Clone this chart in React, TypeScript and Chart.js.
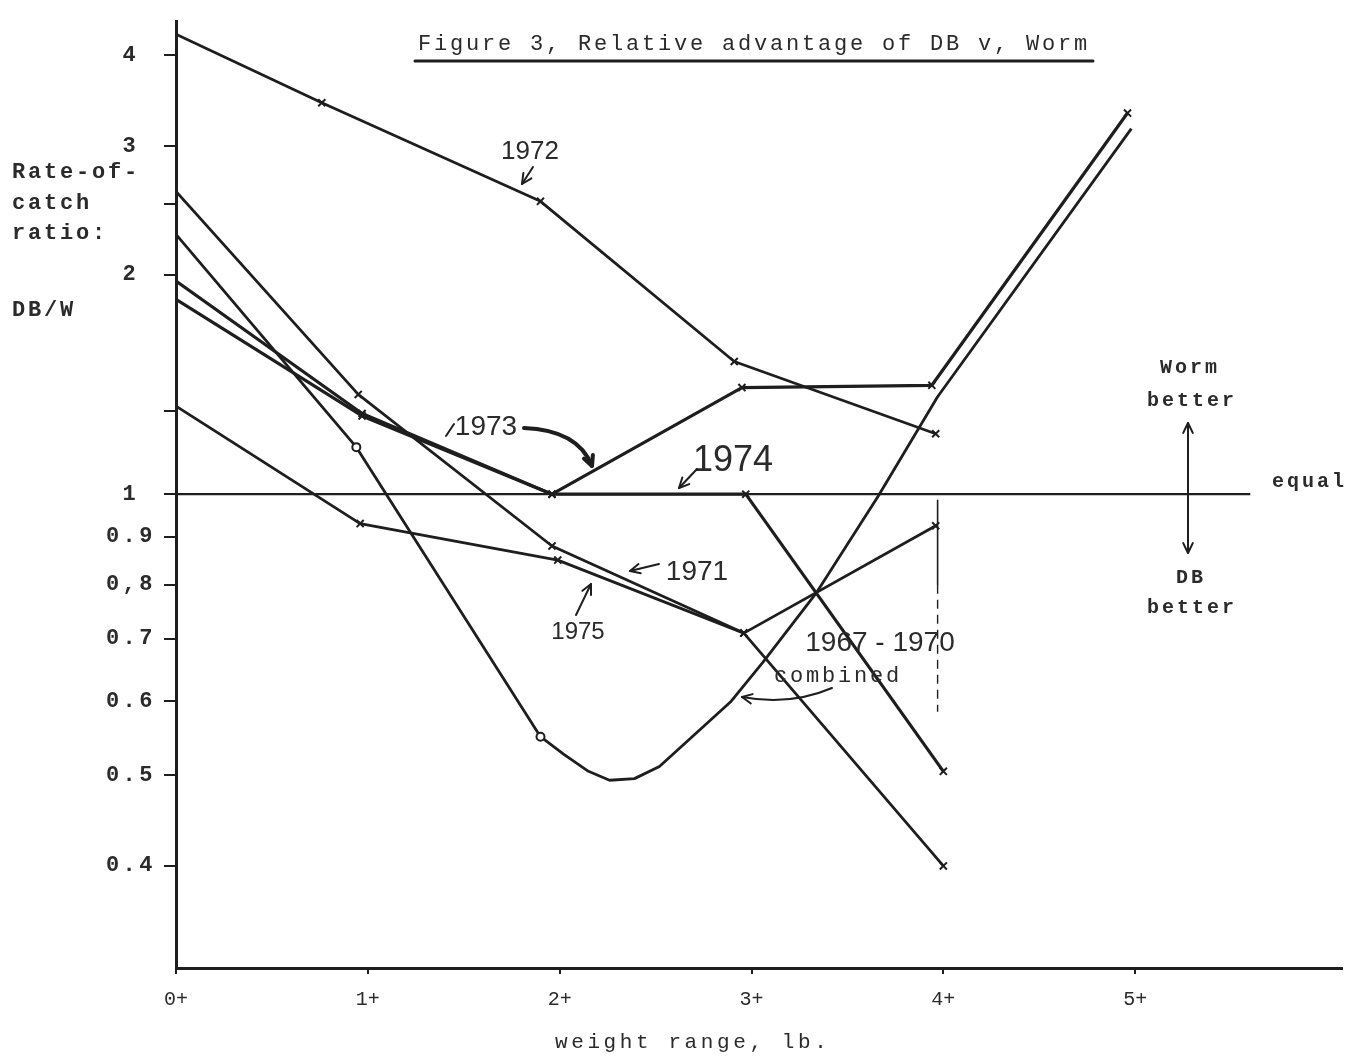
import React, { useEffect, useRef } from 'react';
import { Chart, registerables, LinearScale } from 'chart.js';

Chart.register(...registerables);

// ---------- data ----------
const X_TICKS = [0, 1, 2, 3, 4, 5];
const X_TICK_LABELS = ['0+', '1+', '2+', '3+', '4+', '5+'];
const Y_TICKS = [0.4, 0.5, 0.6, 0.7, 0.8, 0.9, 1, 1.3, 2, 2.5, 3, 4];
const Y_TICK_LABELS = ['0.4', '0.5', '0.6', '0.7', '0,8', '0.9', '1 ', '', '2 ', '', '3 ', '4 '];

const X_1972 = [0, 0.76, 1.9, 2.91, 3.96];
const Y_1972 = [4.27, 3.44, 2.52, 1.52, 1.21];
const X_1971 = [0, 0.95, 1.96, 2.96, 4.0];
const Y_1971 = [2.6, 1.37, 0.88, 0.71, 0.4];
const X_1975 = [0, 0.96, 1.99, 2.96, 3.96];
const Y_1975 = [1.32, 0.93, 0.85, 0.71, 0.925];
const X_1973 = [0, 0.97, 1.96, 2.95, 3.94, 4.96];
const Y_1973 = [1.96, 1.29, 1.0, 1.4, 1.41, 3.33];
const X_1974 = [0, 0.97, 1.96, 2.97, 4.0];
const Y_1974 = [1.85, 1.28, 1.0, 1.0, 0.505];
const X_COMBINED = [0, 0.94, 1.9, 2.02, 2.15, 2.26, 2.39, 2.52, 2.89, 3.06, 3.34, 3.66, 3.97, 4.98];
const Y_COMBINED = [2.27, 1.16, 0.55, 0.527, 0.505, 0.494, 0.496, 0.511, 0.599, 0.661, 0.785, 0.995, 1.36, 3.17];
const X_EQUAL = [0, 5.6];
const Y_EQUAL = [1, 1];
const X_VLINE = [3.97, 3.97];
const Y_VLINE_SOLID = [0.985, 0.8];
const Y_VLINE_DASHED = [0.8, 0.585];

// ---------- custom ratio scale (log, different spacing above / below 1) ----------
const K_UP = 734;
const K_DOWN = 940;
const fwd = (v: number) => {
  const l = Math.log10(v);
  return l >= 0 ? l * K_UP : l * K_DOWN;
};
const inv = (t: number) => Math.pow(10, t >= 0 ? t / K_UP : t / K_DOWN);

class RatioScale extends LinearScale {
  static id = 'ratio';
  buildTicks() {
    return Y_TICKS.map((value) => ({ value }));
  }
  configure() {
    super.configure();
    (this as any)._tMin = fwd(this.min);
    (this as any)._tMax = fwd(this.max);
  }
  getPixelForValue(value: number) {
    if (value === null || value === undefined || isNaN(value) || value <= 0) return NaN;
    const a = (this as any)._tMin;
    const b = (this as any)._tMax;
    return this.getPixelForDecimal((fwd(value) - a) / (b - a));
  }
  getValueForPixel(pixel: number) {
    const a = (this as any)._tMin;
    const b = (this as any)._tMax;
    return inv(a + this.getDecimalForPixel(pixel) * (b - a));
  }
  drawLabels(area: any) {
    const ctx: any = this.ctx;
    const prev = ctx.letterSpacing;
    ctx.letterSpacing = '3.5px';
    super.drawLabels(area);
    ctx.letterSpacing = prev || '0px';
  }
}
Chart.register(RatioScale as any);

const INK = '#1e1e1e';
const TEXT = '#2b2b2b';
const MONO = '"Liberation Mono", "DejaVu Sans Mono", monospace';
const HAND = '"Liberation Sans", "DejaVu Sans", sans-serif';

const mk = (xs: number[], ys: number[]) => xs.map((x, i) => ({ x, y: ys[i] }));

const lineBase = {
  borderColor: INK,
  borderWidth: 2.8,
  pointBorderColor: INK,
  pointBackgroundColor: INK,
  pointBorderWidth: 2,
  borderJoinStyle: 'round' as const,
  tension: 0,
};

// ---------- annotation plugin ----------
function arrowHead(ctx: CanvasRenderingContext2D, x: number, y: number, ang: number, len = 11) {
  ctx.beginPath();
  ctx.moveTo(x + len * Math.cos(ang + Math.PI - 0.45), y + len * Math.sin(ang + Math.PI - 0.45));
  ctx.lineTo(x, y);
  ctx.lineTo(x + len * Math.cos(ang + Math.PI + 0.45), y + len * Math.sin(ang + Math.PI + 0.45));
  ctx.stroke();
}

function line(ctx: CanvasRenderingContext2D, x1: number, y1: number, x2: number, y2: number, head = true) {
  ctx.beginPath();
  ctx.moveTo(x1, y1);
  ctx.lineTo(x2, y2);
  ctx.stroke();
  if (head) arrowHead(ctx, x2, y2, Math.atan2(y2 - y1, x2 - x1));
}

function curve(ctx: CanvasRenderingContext2D, x1: number, y1: number, cx: number, cy: number, x2: number, y2: number) {
  ctx.beginPath();
  ctx.moveTo(x1, y1);
  ctx.quadraticCurveTo(cx, cy, x2, y2);
  ctx.stroke();
  arrowHead(ctx, x2, y2, Math.atan2(y2 - cy, x2 - cx));
}

function text(
  ctx: any,
  s: string,
  x: number,
  y: number,
  font: string,
  align: CanvasTextAlign = 'center',
  spacing = 0,
) {
  ctx.font = font;
  ctx.letterSpacing = `${spacing}px`;
  ctx.textAlign = align;
  ctx.textBaseline = 'middle';
  ctx.fillStyle = TEXT;
  ctx.fillText(s, x, y);
  ctx.letterSpacing = '0px';
}

const annotationPlugin = {
  id: 'annotations',
  beforeDraw(chart: any) {
    const ctx = chart.ctx;
    ctx.save();
    ctx.fillStyle = '#ffffff';
    ctx.fillRect(0, 0, chart.width, chart.height);
    ctx.restore();
  },
  afterDraw(chart: any) {
    const ctx = chart.ctx;
    ctx.save();
    ctx.strokeStyle = INK;
    ctx.lineCap = 'round';
    ctx.lineJoin = 'round';

    // title
    text(ctx, 'Figure 3, Relative advantage of DB v, Worm', 418, 44, `22px ${MONO}`, 'left', 2.8);
    ctx.lineWidth = 3;
    line(ctx, 415, 61, 1093, 61, false);

    // y axis title
    const yf = `bold 22px ${MONO}`;
    text(ctx, 'Rate-of-', 12, 172, yf, 'left', 2.8);
    text(ctx, 'catch', 12, 203, yf, 'left', 2.8);
    text(ctx, 'ratio:', 12, 233, yf, 'left', 2.8);
    text(ctx, 'DB/W', 12, 310, yf, 'left', 2.8);

    // x axis title
    text(ctx, 'weight range, lb.', 555, 1042, `21px ${MONO}`, 'left', 3.6);

    // right side legend
    const rf = `bold 20px ${MONO}`;
    text(ctx, 'Worm', 1190, 368, rf, 'center', 3);
    text(ctx, 'better', 1192, 401, rf, 'center', 3);
    text(ctx, 'equal', 1272, 482, rf, 'left', 3);
    text(ctx, 'DB', 1191, 578, rf, 'center', 3);
    text(ctx, 'better', 1192, 608, rf, 'center', 3);
    ctx.lineWidth = 2;
    line(ctx, 1188, 490, 1188, 423, true);
    line(ctx, 1188, 490, 1188, 553, true);

    // series labels
    text(ctx, '1972', 530, 152, `26px ${HAND}`);
    ctx.lineWidth = 2;
    line(ctx, 533, 167, 522, 184, true);

    text(ctx, '1973', 486, 427, `28px ${HAND}`);
    line(ctx, 454, 424, 446, 436, false);
    ctx.lineWidth = 4;
    curve(ctx, 524, 428, 578, 430, 592, 466);

    ctx.lineWidth = 2;
    text(ctx, '1974', 733, 461, `36px ${HAND}`);
    line(ctx, 697, 469, 679, 488, true);

    text(ctx, '1971', 697, 572, `28px ${HAND}`);
    line(ctx, 659, 564, 630, 571, true);

    text(ctx, '1975', 578, 632, `24px ${HAND}`);
    line(ctx, 576, 615, 591, 584, true);

    text(ctx, '1967 - 1970', 880, 643, `28px ${HAND}`);
    text(ctx, 'combined', 838, 676, `22px ${MONO}`, 'center', 2.8);
    curve(ctx, 832, 688, 790, 706, 742, 697);

    ctx.restore();
  },
};

export default function App() {
  const ref = useRef<HTMLCanvasElement>(null);

  useEffect(() => {
    document.body.style.margin = '0';
    const canvas = ref.current;
    if (!canvas) return;

    const chart = new Chart(canvas, {
      type: 'line',
      data: {
        datasets: [
          {
            label: 'equal',
            data: mk(X_EQUAL, Y_EQUAL),
            ...lineBase,
            borderWidth: 2.4,
            pointRadius: 0,
          },
          {
            label: 'limit',
            data: mk(X_VLINE, Y_VLINE_SOLID),
            ...lineBase,
            borderWidth: 1.6,
            pointRadius: 0,
          },
          {
            label: 'limit dashed',
            data: mk(X_VLINE, Y_VLINE_DASHED),
            ...lineBase,
            borderWidth: 1.4,
            borderDash: [9, 6],
            pointRadius: 0,
          },
          {
            label: '1972',
            data: mk(X_1972, Y_1972),
            ...lineBase,
            pointStyle: 'crossRot',
            pointRadius: (c: any) => (c.dataIndex === 0 ? 0 : 5),
          },
          {
            label: '1971',
            data: mk(X_1971, Y_1971),
            ...lineBase,
            pointStyle: 'crossRot',
            pointRadius: (c: any) => (c.dataIndex === 0 ? 0 : 5),
          },
          {
            label: '1975',
            data: mk(X_1975, Y_1975),
            ...lineBase,
            pointStyle: 'crossRot',
            pointRadius: (c: any) => (c.dataIndex === 0 ? 0 : 5),
          },
          {
            label: '1973',
            data: mk(X_1973, Y_1973),
            ...lineBase,
            borderWidth: 3.2,
            pointStyle: 'crossRot',
            pointRadius: (c: any) => (c.dataIndex === 0 ? 0 : 5),
          },
          {
            label: '1974',
            data: mk(X_1974, Y_1974),
            ...lineBase,
            borderWidth: 3.2,
            pointStyle: 'crossRot',
            pointRadius: (c: any) => (c.dataIndex === 0 ? 0 : 5),
          },
          {
            label: '1967 - 1970 combined',
            data: mk(X_COMBINED, Y_COMBINED),
            ...lineBase,
            pointStyle: 'circle',
            pointBackgroundColor: '#ffffff',
            pointRadius: (c: any) => (c.dataIndex === 1 || c.dataIndex === 2 ? 4 : 0),
          },
        ] as any,
      },
      options: {
        responsive: false,
        devicePixelRatio: 1,
        animation: false,
        events: [],
        layout: { padding: { top: 14, left: 0, right: 0, bottom: 0 } },
        plugins: {
          legend: { display: false },
          tooltip: { enabled: false },
          title: { display: false },
        },
        scales: {
          x: {
            type: 'linear',
            min: 0,
            max: 6.078,
            afterBuildTicks: (s: any) => {
              s.ticks = X_TICKS.map((value) => ({ value }));
            },
            afterFit: (s: any) => {
              s.height = 88;
            },
            ticks: {
              callback: (_v: any, i: number) => X_TICK_LABELS[i],
              font: { family: MONO, size: 20 },
              color: TEXT,
              padding: 14,
              autoSkip: false,
              maxRotation: 0,
            },
            grid: { drawOnChartArea: false, tickLength: 6, color: INK, lineWidth: 2 },
            border: { display: true, color: INK, width: 3 },
          },
          y: {
            type: 'ratio' as any,
            position: 'left',
            min: 0.311,
            max: 4.45,
            afterFit: (s: any) => {
              s.width = 176;
            },
            ticks: {
              callback: (_v: any, i: number) => Y_TICK_LABELS[i],
              font: { family: MONO, size: 22, weight: 'bold' },
              color: TEXT,
              padding: 8,
              autoSkip: false,
            },
            grid: { drawOnChartArea: false, tickLength: 12, color: INK, lineWidth: 2 },
            border: { display: true, color: INK, width: 3 },
          },
        } as any,
      },
      plugins: [annotationPlugin],
    });

    return () => chart.destroy();
  }, []);

  return (
    <div style={{ width: 1349, height: 1056, background: '#fff' }}>
      <canvas ref={ref} width={1349} height={1056} style={{ display: 'block', width: 1349, height: 1056 }} />
    </div>
  );
}
